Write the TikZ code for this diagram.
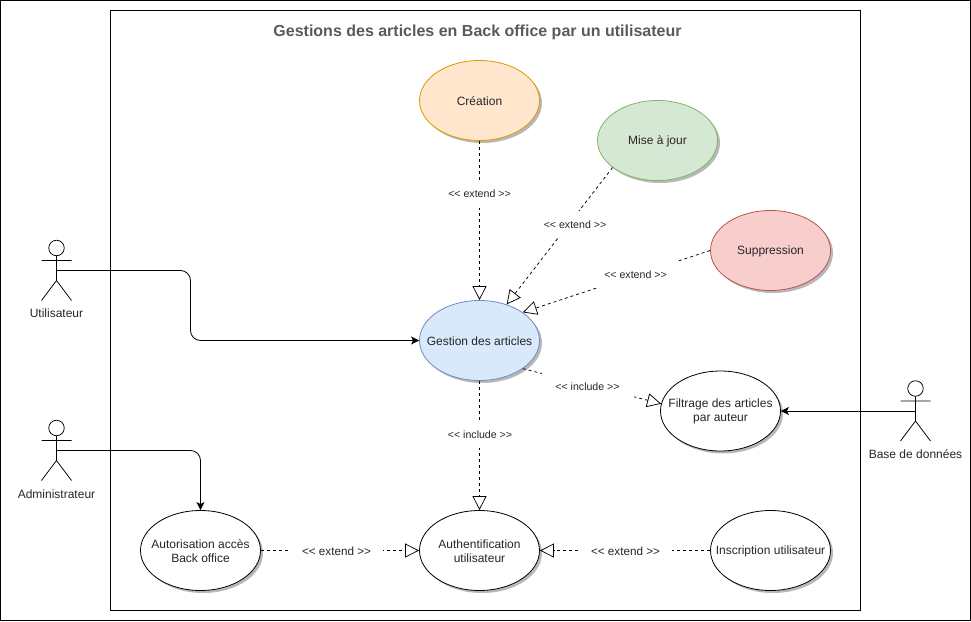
\documentclass[tikz,border=0pt]{standalone}
\usepackage{fontspec}
\setmainfont{Liberation Sans}
\usetikzlibrary{arrows.meta,shapes.geometric,shadows}
\definecolor{ttl}{HTML}{5A5A5A}
\definecolor{ofill}{HTML}{FFE6CC}\definecolor{ostroke}{HTML}{D79B00}
\definecolor{gfill}{HTML}{D5E8D4}\definecolor{gstroke}{HTML}{82B366}
\definecolor{rfill}{HTML}{F8CECC}\definecolor{rstroke}{HTML}{B85450}
\definecolor{bfill}{HTML}{DAE8FC}\definecolor{bstroke}{HTML}{6C8EBF}
\tikzset{
  frame/.style={draw=black,line width=0.75pt,fill=none},
  uctxt/.style={align=center,font=\fontsize{12}{14.5}\selectfont,text=black!85,inner sep=0pt,yshift=-0.5pt},
  uc/.style={ellipse,draw=black,fill=white,line width=0.8pt,minimum width=120pt,minimum height=80pt,inner sep=0pt,
    label={[uctxt]center:{#1}},
    drop shadow={shadow xshift=2.5pt,shadow yshift=-2.5pt,opacity=.28,fill=black}},
  dep/.style={draw=black,line width=0.75pt,dash pattern=on 3pt off 3pt,-{Triangle[open,length=14pt,width=14pt,line width=0.75pt]}},
  flow/.style={draw=black,line width=0.8pt,rounded corners=10pt,-{Stealth[length=8pt,width=8pt,inset=2pt]}},
  elab/.style={fill=white,minimum width=92pt,minimum height=27pt,inner sep=0pt,font=\fontsize{10.6}{12}\selectfont,text=black!85},
  elabb/.style={elab,font=\fontsize{11.7}{13}\selectfont},
  actortxt/.style={font=\fontsize{12}{14.5}\selectfont,text=black!85,inner sep=0pt},
  actor/.pic={
    \draw[line width=0.75pt,fill=white] (0,-22.5) circle[radius=7.75pt];
    \draw[line width=0.75pt] (0,-15) -- (0,10) (-15,-10) -- (15,-10) (-15,30) -- (0,10) -- (15,30);
  }
}
\begin{document}
\begin{tikzpicture}[x=1pt,y=-1pt]
\useasboundingbox (0,0) rectangle (971,621);
\draw[frame] (0.5,0.5) rectangle (970.5,620.5);
\draw[frame] (110.5,10.5) rectangle (860.5,610.5);
\node[font=\bfseries\fontsize{16}{19}\selectfont,text=ttl,inner sep=0pt] (title) at (477.5,32) {Gestions des articles en Back office par un utilisateur};

\node[uc={Création},draw=ostroke,fill=ofill] (crea) at (479.5,100.5) {};
\node[uc={Mise à jour},draw=gstroke,fill=gfill] (maj) at (657.5,140.5) {};
\node[uc={Suppression},draw=rstroke,fill=rfill] (supp) at (770.5,250.5) {};
\node[uc={Gestion des articles},draw=bstroke,fill=bfill] (gest) at (479.5,340.5) {};
\node[uc={Filtrage des articles\\par auteur}] (filt) at (720.5,411) {};
\node[uc={Authentification\\utilisateur}] (auth) at (479.5,550.5) {};
\node[uc={Autorisation accès\\Back office}] (autor) at (200.5,550.5) {};
\node[uc={Inscription utilisateur}] (insc) at (770.5,550.5) {};

\coordinate (uti) at (56.5,270.5);
\coordinate (adm) at (56.5,450.5);
\coordinate (bdd) at (915.5,411);
\pic at (uti) {actor};
\pic at (adm) {actor};
\pic at (bdd) {actor};
\node[actortxt] (utilab) at (56.5,313.5) {Utilisateur};
\node[actortxt] (admlab) at (56.5,494) {Administrateur};
\node[actortxt] (bddlab) at (915.5,454) {Base de données};

\draw[flow] (uti) -- (190.5,270.5) |- (gest.west);
\draw[flow] (adm) -| (autor.north);
\draw[flow] (bdd) -- (filt.east);

\draw[dep] (crea.south) -- (gest.north);
\draw[dep] (maj.211) -- (gest.53);
\draw[dep] (supp.west) -- (gest.33);
\draw[dep] (gest.-33) -- (filt.173);
\draw[dep] (gest.south) -- (auth.north);
\draw[dep] (autor.east) -- (auth.west);
\draw[dep] (insc.west) -- (auth.east);

\node[elab] (l1) at (479.5,194) {<{}< extend >{}>};
\node[elab] (l2) at (575,224.5) {<{}< extend >{}>};
\node[elab] (l3) at (635.5,274.5) {<{}< extend >{}>};
\node[elab] (l4) at (587.5,386.5) {<{}< include >{}>};
\node[elab] (l5) at (480,434.5) {<{}< include >{}>};
\node[elabb] (l6) at (336.5,551) {<{}< extend >{}>};
\node[elabb] (l7) at (625.5,551) {<{}< extend >{}>};
\end{tikzpicture}
\end{document}
